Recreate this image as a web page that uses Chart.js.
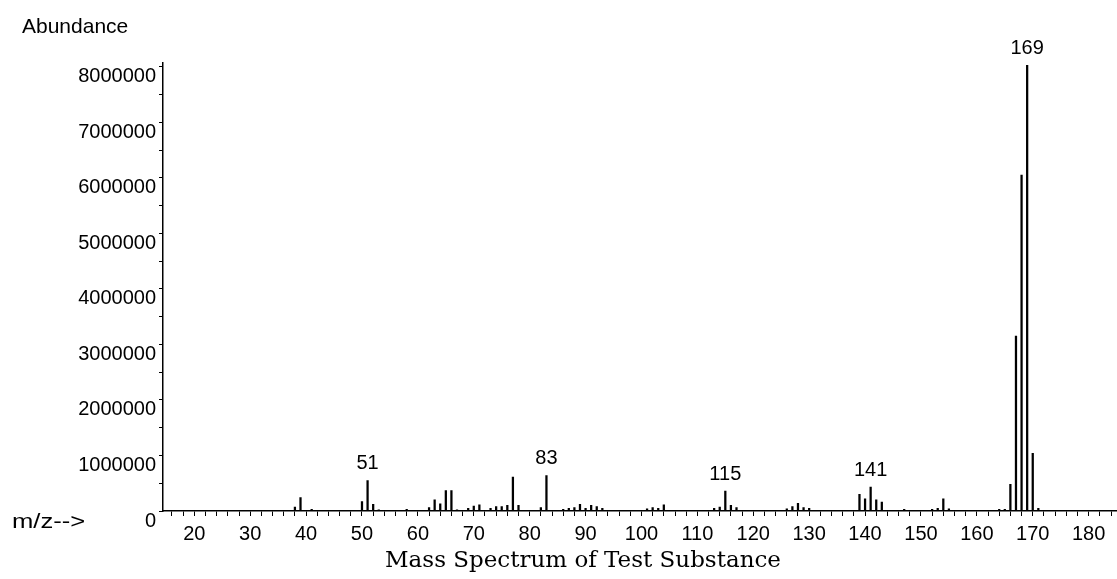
<!DOCTYPE html>
<html>
<head>
<meta charset="utf-8">
<script src="https://cdn.jsdelivr.net/npm/chart.js@4/dist/chart.umd.min.js"></script>
<style>
  html, body { margin: 0; padding: 0; background: #fff; }
  #wrap { width: 1117px; height: 579px; }
</style>
</head>
<body>
<div id="wrap"><canvas id="spectrum"></canvas></div>
<script>
// m/z of each peak and its abundance (counts)
const masses = [27, 38, 39, 41, 50, 51, 52, 53, 58, 62, 63, 64, 65, 66, 67,
    69, 70, 71, 73, 74, 75, 76, 77, 78, 82, 83, 86, 87, 88, 89, 90, 91, 92, 93,
    101, 102, 103, 104, 113, 114, 115, 116, 117, 126, 127, 128, 129, 130,
    139, 140, 141, 142, 143, 147, 152, 153, 154, 155,
    164, 165, 166, 167, 168, 169, 170, 171];
const abundances = [10000, 70000, 240000, 30000, 170000, 550000, 120000, 20000, 30000, 60000, 200000, 130000, 370000, 370000, 20000,
    50000, 90000, 110000, 50000, 80000, 80000, 100000, 610000, 100000, 60000, 640000, 30000, 50000, 60000, 120000, 50000, 100000, 80000, 50000,
    40000, 60000, 50000, 110000, 50000, 70000, 360000, 100000, 60000, 40000, 80000, 140000, 60000, 50000,
    300000, 220000, 430000, 200000, 160000, 30000, 30000, 50000, 220000, 40000,
    30000, 30000, 480000, 3150000, 6050000, 8030000, 1040000, 50000];
const labeledPeaks = [51, 83, 115, 141, 169];

// y ticks every half million, labels on the whole millions
const yTicks = [0, 500000, 1000000, 1500000, 2000000, 2500000, 3000000, 3500000, 4000000,
    4500000, 5000000, 5500000, 6000000, 6500000, 7000000, 7500000, 8000000];
const yTickLabels = ['0', '', '1000000', '', '2000000', '', '3000000', '', '4000000',
    '', '5000000', '', '6000000', '', '7000000', '', '8000000'];

const yLabel = 'Abundance';
const xLabel = 'm/z-->';
const caption = 'Mass Spectrum of Test Substance';

const points = masses.map((m, i) => ({ x: m, y: abundances[i] }));

const textPlugin = {
    id: 'spectrumText',
    afterDraw(chart) {
        const ctx = chart.ctx;
        const xs = chart.scales.x;
        const ys = chart.scales.y;
        ctx.save();
        ctx.fillStyle = '#000';

        ctx.font = '20px "Liberation Sans", Arial, sans-serif';
        ctx.textAlign = 'center';
        ctx.textBaseline = 'bottom';
        labeledPeaks.forEach(m => {
            const i = masses.indexOf(m);
            ctx.fillText(String(m), xs.getPixelForValue(m), ys.getPixelForValue(abundances[i]) - 7);
        });

        ctx.textAlign = 'left';
        ctx.textBaseline = 'middle';
        ctx.font = '21px "Liberation Sans", Arial, sans-serif';
        ctx.fillText(yLabel, 22, 27);

        ctx.save();
        ctx.translate(12, 522);
        ctx.scale(1.28, 1);
        ctx.font = '20px "Liberation Sans", Arial, sans-serif';
        ctx.fillText(xLabel, 0, 0);
        ctx.restore();

        ctx.font = '23px "DejaVu Serif", "Liberation Serif", serif';
        ctx.textAlign = 'center';
        ctx.fillText(caption, 583, 561);
        ctx.restore();
    }
};

new Chart(document.getElementById('spectrum'), {
    type: 'bar',
    data: {
        datasets: [{
            data: points,
            backgroundColor: '#000',
            borderWidth: 0,
            barThickness: 1.6,
            grouped: false
        }]
    },
    options: {
        responsive: true,
        maintainAspectRatio: false,
        animation: false,
        layout: { padding: { top: 63, right: 0, bottom: 0, left: 0 } },
        plugins: {
            legend: { display: false },
            tooltip: { enabled: false }
        },
        scales: {
            x: {
                type: 'linear',
                offset: false,
                min: 14.4,
                max: 185,
                afterFit: s => { s.height = 68; },
                border: { color: '#000', width: 1.5 },
                grid: { offset: false, drawOnChartArea: false, color: '#000', tickLength: 5 },
                ticks: {
                    stepSize: 2,
                    includeBounds: false,
                    autoSkip: false,
                    maxRotation: 0,
                    padding: 6,
                    color: '#000',
                    font: { family: '"Liberation Sans", Arial, sans-serif', size: 20 },
                    callback: v => (Math.round(v) % 10 === 0 ? String(Math.round(v)) : '')
                }
            },
            y: {
                min: 0,
                max: 8070000,
                afterFit: s => { s.width = 163; },
                afterBuildTicks: s => { s.ticks = yTicks.map(v => ({ value: v })); },
                border: { color: '#000', width: 1.5 },
                grid: { drawOnChartArea: false, color: '#000', tickLength: 4 },
                ticks: {
                    autoSkip: false,
                    padding: 3,
                    labelOffset: 10,
                    color: '#000',
                    font: { family: '"Liberation Sans", Arial, sans-serif', size: 20 },
                    callback: (v, i) => yTickLabels[yTicks.indexOf(v)] || ''
                }
            }
        }
    },
    plugins: [textPlugin]
});
</script>
</body>
</html>
